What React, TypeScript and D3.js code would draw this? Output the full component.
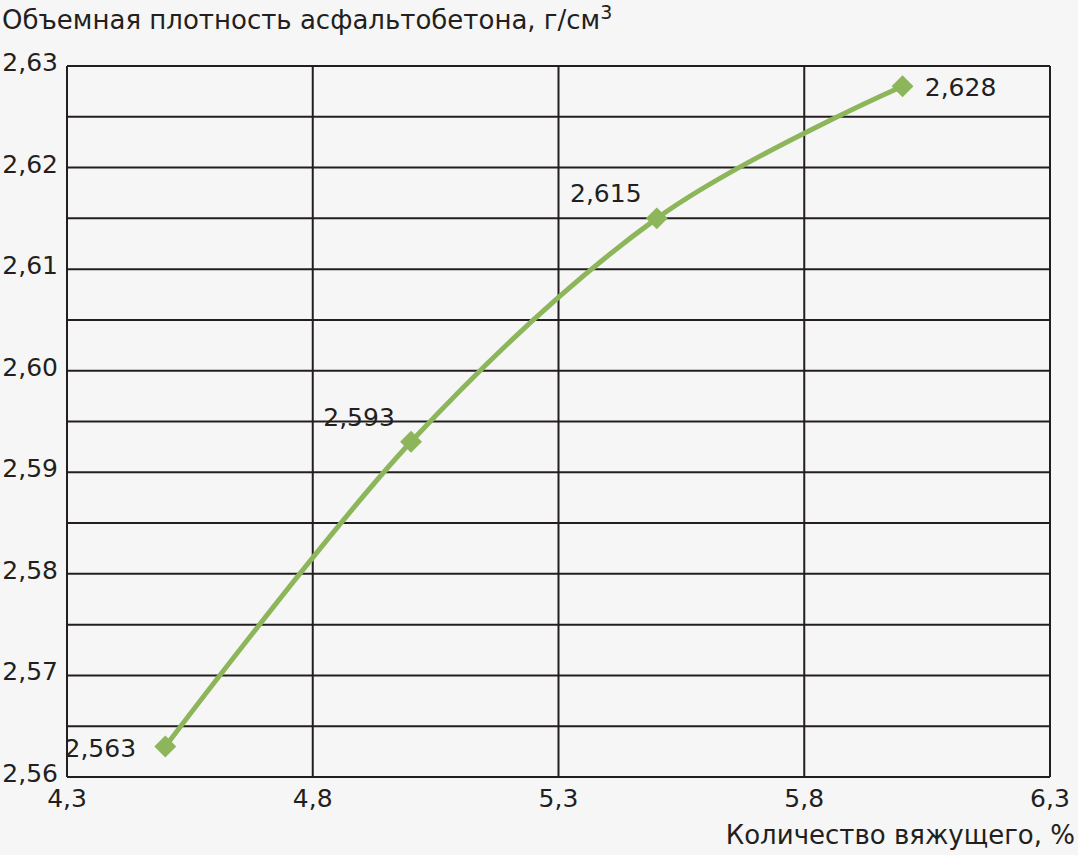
import { useEffect, useRef } from "react"
import * as d3 from "d3"

const binder = [4.5, 5.0, 5.5, 6.0]
const density = [2.563, 2.593, 2.615, 2.628]
const pointLabels = ["2,563", "2,593", "2,615", "2,628"]
const yTicks = [2.56, 2.57, 2.58, 2.59, 2.6, 2.61, 2.62, 2.63]
const yMinorLines = [2.565, 2.575, 2.585, 2.595, 2.605, 2.615, 2.625]
const xTicks = [4.3, 4.8, 5.3, 5.8, 6.3]

const fmt = (v: number, digits: number) => v.toFixed(digits).replace(".", ",")

export default function App() {
  const svgRef = useRef<SVGSVGElement>(null)

  useEffect(() => {
    if (!svgRef.current) return
    document.body.style.margin = "0"
    const width = 1078
    const height = 855
    const margin = { top: 66, right: 28, bottom: 78, left: 67 }
    const innerWidth = width - margin.left - margin.right
    const innerHeight = height - margin.top - margin.bottom
    const ink = "#231f20"
    const green = "#8db65a"
    const font = "'DejaVu Sans', sans-serif"

    const root = d3.select(svgRef.current)
    root.selectAll("*").remove()
    root.attr("width", width).attr("height", height)
    root.append("rect").attr("width", width).attr("height", height).attr("fill", "#f6f6f6")

    const svg = root.append("g").attr("transform", `translate(${margin.left},${margin.top})`)

    const x = d3.scaleLinear().domain([4.3, 6.3]).range([0, innerWidth])
    const y = d3.scaleLinear().domain([2.56, 2.63]).range([innerHeight, 0])

    // horizontal grid lines
    svg
      .selectAll("line.hgrid")
      .data([...yTicks, ...yMinorLines])
      .enter()
      .append("line")
      .attr("x1", 0)
      .attr("x2", innerWidth)
      .attr("y1", (d) => y(d))
      .attr("y2", (d) => y(d))
      .attr("stroke", ink)
      .attr("stroke-width", 2)

    // vertical grid lines
    svg
      .selectAll("line.vgrid")
      .data(xTicks)
      .enter()
      .append("line")
      .attr("x1", (d) => x(d))
      .attr("x2", (d) => x(d))
      .attr("y1", 0)
      .attr("y2", innerHeight)
      .attr("stroke", ink)
      .attr("stroke-width", 2)

    // y tick labels
    svg
      .selectAll("text.ytick")
      .data(yTicks)
      .enter()
      .append("text")
      .attr("x", -9)
      .attr("y", (d) => y(d))
      .attr("dy", "0.2em")
      .attr("text-anchor", "end")
      .attr("font-family", font)
      .attr("font-size", 25)
      .attr("fill", ink)
      .text((d) => fmt(d, 2))

    // x tick labels
    svg
      .selectAll("text.xtick")
      .data(xTicks)
      .enter()
      .append("text")
      .attr("x", (d) => x(d))
      .attr("y", innerHeight + 30)
      .attr("text-anchor", "middle")
      .attr("font-family", font)
      .attr("font-size", 25)
      .attr("fill", ink)
      .text((d) => fmt(d, 1))

    // smoothed line
    const pts = binder.map((b, i) => [b, density[i]] as [number, number])
    const line = d3
      .line<[number, number]>()
      .x((d) => x(d[0]))
      .y((d) => y(d[1]))
      .curve(d3.curveCardinal.tension(0))

    svg
      .append("path")
      .datum(pts)
      .attr("fill", "none")
      .attr("stroke", green)
      .attr("stroke-width", 5)
      .attr("d", line)

    // diamond markers
    svg
      .selectAll("path.marker")
      .data(pts)
      .enter()
      .append("path")
      .attr("transform", (d) => `translate(${x(d[0])},${y(d[1])}) rotate(45)`)
      .attr("d", d3.symbol().type(d3.symbolSquare).size(240))
      .attr("fill", green)

    // data labels
    const labelPos = [
      { dx: -65, dy: 10 },
      { dx: -52, dy: -16 },
      { dx: -51, dy: -16 },
      { dx: 58, dy: 10 },
    ]
    svg
      .selectAll("text.dlabel")
      .data(pts)
      .enter()
      .append("text")
      .attr("x", (d, i) => x(d[0]) + labelPos[i].dx)
      .attr("y", (d, i) => y(d[1]) + labelPos[i].dy)
      .attr("text-anchor", "middle")
      .attr("font-family", font)
      .attr("font-size", 25)
      .attr("fill", ink)
      .text((d, i) => pointLabels[i])

    // y axis title
    const title = root
      .append("text")
      .attr("x", 2)
      .attr("y", 29)
      .attr("font-family", font)
      .attr("font-size", 26)
      .attr("fill", ink)
    title.append("tspan").text("Объемная плотность асфальтобетона, г/см")
    title.append("tspan").attr("dy", -10).attr("font-size", 19).text("3")

    // x axis title
    root
      .append("text")
      .attr("x", 1075)
      .attr("y", 844)
      .attr("text-anchor", "end")
      .attr("font-family", font)
      .attr("font-size", 26)
      .attr("fill", ink)
      .text("Количество вяжущего, %")
  }, [])

  return (
    <div style={{ width: 1078, height: 855 }}>
      <svg ref={svgRef} style={{ display: "block" }}></svg>
    </div>
  )
}
